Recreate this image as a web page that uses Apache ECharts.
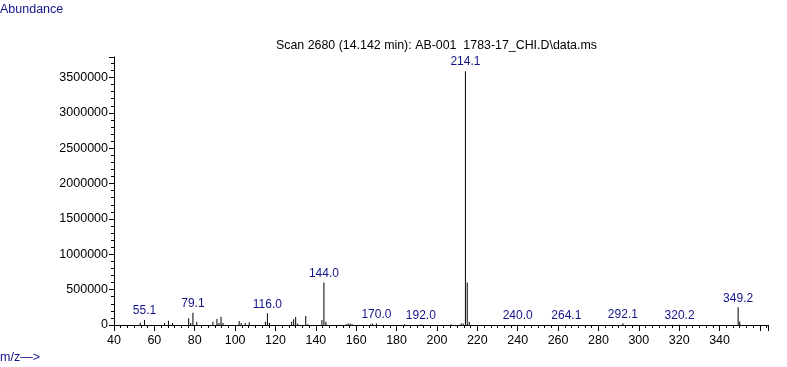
<!DOCTYPE html>
<html>
<head>
<meta charset="utf-8">
<script src="https://cdn.jsdelivr.net/npm/echarts@6/dist/echarts.min.js"></script>
<style>html,body{margin:0;padding:0;background:#fff;}#c{width:787px;height:367px;}</style>
</head>
<body>
<div id="c"></div>
<script>
// m/z positions of peaks
const peakMz = [53, 55.1, 65, 67, 69, 77, 78, 79.1, 81, 89, 91, 92, 93, 94, 102, 103, 105, 107, 115, 116.0, 117,
  128, 129, 130, 131, 135, 136, 143, 144.0, 145, 155, 156, 157, 158, 167, 168, 170.0, 184, 192.0, 207, 212, 213,
  214.1, 215, 216, 240.0, 264.1, 292.1, 320.2, 349.2, 350];
// abundances
const peakAbundance = [33000, 72000, 30000, 60000, 30000, 95000, 30000, 175000, 45000, 45000, 85000, 30000, 118000, 30000, 55000, 30000, 30000, 40000, 45000, 165000, 30000,
  47000, 80000, 112000, 20000, 127000, 12000, 70000, 600000, 47000, 10000, 20000, 20000, 10000, 10000, 20000, 22000, 10000, 8000, 10000, 20000, 22000,
  3590000, 600000, 47000, 5000, 5000, 25000, 4000, 250000, 50000];
// peaks carrying an m/z label
const labelMz = [55.1, 79.1, 116.0, 144.0, 170.0, 192.0, 214.1, 240.0, 264.1, 292.1, 320.2, 349.2];
const yTicks = [0, 500000, 1000000, 1500000, 2000000, 2500000, 3000000, 3500000];
const xTickLabels = [40, 60, 80, 100, 120, 140, 160, 180, 200, 220, 240, 260, 280, 300, 320, 340];

const FONT = 'Liberation Sans';
const LABEL_COLOR = '#13138a';

const data = peakMz.map((m, i) => {
  const item = { value: [m, peakAbundance[i]] };
  if (labelMz.indexOf(m) >= 0) {
    item.label = {
      show: true, position: 'top', distance: 3,
      formatter: m.toFixed(1), color: LABEL_COLOR, fontFamily: FONT, fontSize: 12
    };
  }
  return item;
});

const chart = echarts.init(document.getElementById('c'), null, { renderer: 'canvas' });
chart.setOption({
  animation: false,
  backgroundColor: '#fff',
  grid: { left: 114, right: 19, top: 57, bottom: 42, containLabel: false },
  xAxis: {
    type: 'value', min: 40, max: 364, interval: 20,
    splitLine: { show: false },
    axisLine: { show: true, onZero: false, lineStyle: { color: '#000', width: 1 } },
    axisTick: { show: true, length: 6, lineStyle: { color: '#000' } },
    minorTick: { show: true, splitNumber: 6, length: 3, lineStyle: { color: '#000' } },
    axisLabel: {
      color: '#000', fontFamily: FONT, fontSize: 12.5, margin: 9, showMaxLabel: false,
      formatter: v => (xTickLabels.indexOf(v) >= 0 ? String(v) : '')
    }
  },
  yAxis: {
    type: 'value', min: 0, max: 3790000, interval: 500000,
    splitLine: { show: false },
    axisLine: { show: true, lineStyle: { color: '#000', width: 1 } },
    axisTick: { show: true, length: 5, lineStyle: { color: '#000' } },
    minorTick: { show: true, splitNumber: 5, length: 3, lineStyle: { color: '#000' } },
    axisLabel: {
      color: '#000', fontFamily: FONT, fontSize: 12.5, margin: 6, showMaxLabel: false,
      formatter: v => (yTicks.indexOf(v) >= 0 ? String(v) : '')
    }
  },
  series: [{
    type: 'bar', data: data, barWidth: 1, barGap: '0%',
    itemStyle: { color: '#000' },
    emphasis: { disabled: true }
  }],
  graphic: [
    { type: 'text', left: 0, top: 3, style: { text: 'Abundance', fill: LABEL_COLOR, font: '12.5px ' + FONT } },
    { type: 'text', left: 0, top: 351, style: { text: 'm/z\u2014>', fill: LABEL_COLOR, font: '12.5px ' + FONT } },
    { type: 'text', left: 276, top: 40, style: { text: 'Scan 2680 (14.142 min): AB-001  1783-17_CHI.D\\data.ms', fill: '#000', font: '12.4px ' + FONT } }
  ]
});
</script>
</body>
</html>
